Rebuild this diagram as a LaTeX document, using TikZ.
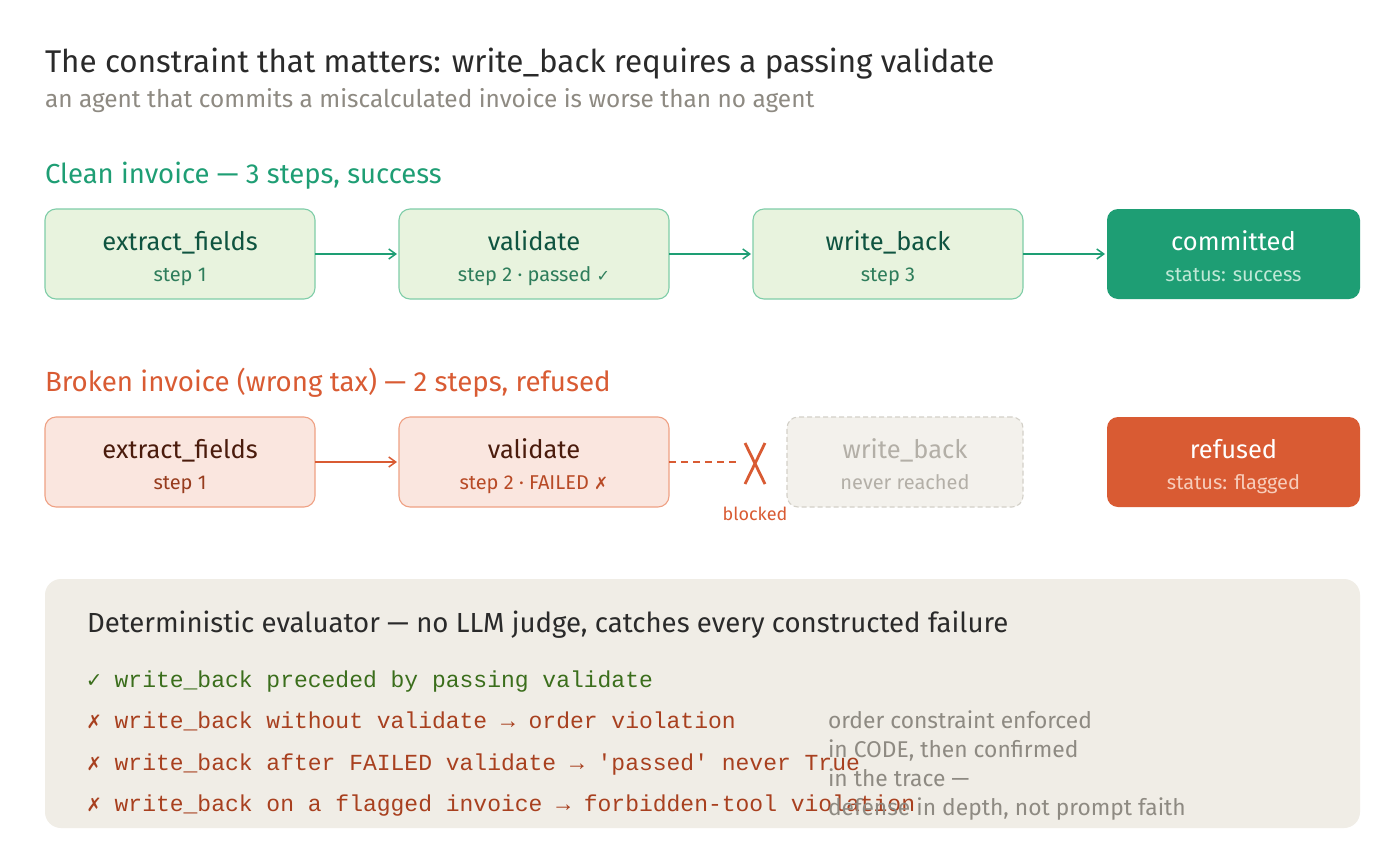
\documentclass[tikz,border=0pt]{standalone}
\usepackage{fontspec}
\setmainfont{Fira Sans}
\newfontfamily\monofont{Liberation Mono}
\newfontfamily\symfont{DejaVu Sans}
\newfontfamily\symmono{DejaVu Sans Mono}
\usetikzlibrary{arrows.meta,calc}
\definecolor{ink}{HTML}{2A2A2A}
\definecolor{subgray}{HTML}{8E8A82}
\definecolor{accg}{HTML}{1E9E74}
\definecolor{gfill}{HTML}{E8F3DE}
\definecolor{gborder}{HTML}{7FCDA8}
\definecolor{gtitle}{HTML}{0F5440}
\definecolor{gsub}{HTML}{2E7D5B}
\definecolor{acco}{HTML}{D95B33}
\definecolor{ofill}{HTML}{FAE6DF}
\definecolor{oborder}{HTML}{EFA184}
\definecolor{otitle}{HTML}{4A1B0C}
\definecolor{osub}{HTML}{B84A26}
\definecolor{nfill}{HTML}{F3F1EC}
\definecolor{nborder}{HTML}{D3D0C8}
\definecolor{ntext}{HTML}{B3AFA7}
\definecolor{panelc}{HTML}{F0EDE6}
\definecolor{monog}{HTML}{3B6E1C}
\definecolor{monor}{HTML}{A8401F}
\definecolor{notec}{HTML}{8E8A82}
\definecolor{cmsub}{HTML}{BFE8D6}
\definecolor{rfsub}{HTML}{F7CDBB}
\newcommand{\fs}[1]{\fontsize{#1}{#1}\selectfont}
\begin{document}
\begin{tikzpicture}[x=1pt,y=-1pt,
  every node/.style={inner sep=0pt, outer sep=0pt},
  boxbase/.style={rounded corners=11pt, minimum height=90pt, line width=1.1pt},
  gbox/.style={boxbase, draw=gborder, fill=gfill, minimum width=270pt},
  obox/.style={boxbase, draw=oborder, fill=ofill, minimum width=270pt},
  nbox/.style={boxbase, draw=nborder, fill=nfill, minimum width=236pt, dash pattern=on 5pt off 3pt},
  cbox/.style={boxbase, fill=accg, minimum width=253pt},
  rbox/.style={boxbase, fill=acco, minimum width=253pt},
  btitle/.style={anchor=base, font=\fs{25.5}},
  bsub/.style={anchor=base, font=\fs{20}},
  garrow/.style={draw=accg, line width=1.5pt, -{Straight Barb[length=7pt,width=10pt,line width=1.5pt]}, shorten >=2pt},
  oarrow/.style={draw=acco, line width=1.5pt, -{Straight Barb[length=7pt,width=10pt,line width=1.5pt]}, shorten >=2pt},
  monoline/.style={anchor=base west, font=\monofont\fs{23}},
  noteline/.style={anchor=base west, font=\fs{22.8}, text=notec}
]
\useasboundingbox (0,0) rectangle (1400,865);
\fill[white] (0,0) rectangle (1400,865);

% titles
\node[anchor=base west, font=\fs{31.4}, text=ink] (title) at (45,72) {The constraint that matters: write\_back requires a passing validate};
\node[anchor=base west, font=\fs{24.4}, text=subgray] (subtitle) at (45,107) {an agent that commits a miscalculated invoice is worse than no agent};
\node[anchor=base west, font=\fs{27.5}, text=accg] (cleanh) at (45,183) {Clean invoice — 3 steps, success};
\node[anchor=base west, font=\fs{27.7}, text=acco] (brokenh) at (45,391) {Broken invoice (wrong tax) — 2 steps, refused};

% row 1
\node[gbox] (g1) at (180,254) {};
\node[gbox] (g2) at (534,254) {};
\node[gbox] (g3) at (888,254) {};
\node[cbox] (g4) at (1233.5,254) {};
\node[btitle, text=gtitle] (g1t) at (180,250) {extract\_fields};
\node[bsub, text=gsub] (g1s) at (180,281) {step 1};
\node[btitle, text=gtitle] (g2t) at (534,250) {validate};
\node[bsub, text=gsub] (g2s) at (534,281) {step 2 · passed {\symfont\fs{16}✓}};
\node[btitle, text=gtitle] (g3t) at (888,250) {write\_back};
\node[bsub, text=gsub] (g3s) at (888,281) {step 3};
\node[btitle, text=white] (g4t) at (1233.5,250) {committed};
\node[bsub, text=cmsub] (g4s) at (1233.5,281) {status: success};
\draw[garrow] (g1) -- (g2);
\draw[garrow] (g2) -- (g3);
\draw[garrow] (g3) -- (g4);

% row 2
\node[obox] (o1) at (180,462) {};
\node[obox] (o2) at (534,462) {};
\node[nbox] (o3) at (905,462) {};
\node[rbox] (o4) at (1233.5,462) {};
\node[btitle, text=otitle] (o1t) at (180,458) {extract\_fields};
\node[bsub, text=osub!70!otitle] (o1s) at (180,489) {step 1};
\node[btitle, text=otitle] (o2t) at (534,458) {validate};
\node[bsub, text=osub] (o2s) at (534,489) {step 2 · FAILED {\symfont\fs{17}✗}};
\node[btitle, text=ntext] (o3t) at (905,458) {write\_back};
\node[bsub, text=ntext] (o3s) at (905,489) {never reached};
\node[btitle, text=white] (o4t) at (1233.5,458) {refused};
\node[bsub, text=rfsub] (o4s) at (1233.5,489) {status: flagged};
\draw[oarrow] (o1) -- (o2);
\coordinate (xm) at (755,463);
\coordinate (dashend) at (738,462);
\draw[acco, line width=1.5pt, dash pattern=on 7pt off 5pt] (o2.east |- dashend) -- (dashend);
\draw[acco, line width=2.8pt] ($(xm)+(-10,-20)$) -- ($(xm)+(10,21)$);
\draw[acco, line width=2.8pt] ($(xm)+(10,-20)$) -- ($(xm)+(-10,21)$);
\node[anchor=base, font=\fs{18}, text=acco] (blocked) at (755,520) {blocked};

% panel
\node[fill=panelc, rounded corners=16pt, minimum width=1315pt, minimum height=249pt] (panel) at (702.5,703.5) {};
\node[anchor=base west, font=\fs{27.6}, text=ink] (ph) at (87,632) {Deterministic evaluator — no LLM judge, catches every constructed failure};
\node[monoline, text=monog] (m1) at (87,687) {{\symmono ✓} write\_back preceded by passing validate};
\node[monoline, text=monor] (m2) at (87,728) {{\symmono ✗} write\_back without validate → order violation};
\node[monoline, text=monor] (m3) at (87,770) {{\symmono ✗} write\_back after FAILED validate → 'passed' never True};
\node[monoline, text=monor] (m4) at (87,811) {{\symmono ✗} write\_back on a flagged invoice → forbidden-tool violation};
\node[noteline] (n1) at (828,728) {order constraint enforced};
\node[noteline] (n2) at (828,757) {in CODE, then confirmed};
\node[noteline] (n3) at (828,786) {in the trace —};
\node[noteline] (n4) at (828,815) {defense in depth, not prompt faith};
\end{tikzpicture}
\end{document}
